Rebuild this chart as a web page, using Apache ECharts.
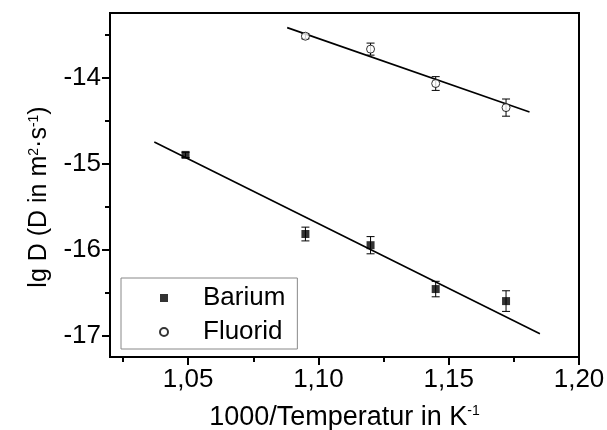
<!DOCTYPE html>
<html><head><meta charset="utf-8">
<script src="https://cdn.jsdelivr.net/npm/echarts@6/dist/echarts.min.js"></script>
<style>html,body{margin:0;padding:0;background:#fff}#c{width:607px;height:430px}</style>
</head><body><div id="c"></div>
<script>
const bariumX = [1.049, 1.095, 1.120, 1.145, 1.172];
const bariumY = [-14.90, -15.82, -15.95, -16.46, -16.60];
const bariumErr = [0.03, 0.08, 0.10, 0.09, 0.12];
const fluoridX = [1.095, 1.120, 1.145, 1.172];
const fluoridY = [-13.52, -13.67, -14.07, -14.35];
const fluoridErr = [0.03, 0.07, 0.08, 0.10];
const bariumFitX = [1.037, 1.185];
const bariumFitY = [-14.75, -16.98];
const fluoridFitX = [1.088, 1.181];
const fluoridFitY = [-13.42, -14.40];
const xTicks = [1.05, 1.10, 1.15, 1.20];
const xMinorTicks = [1.025, 1.075, 1.125, 1.175];
const yTicks = [-17, -16, -15, -14];
const yMinorTicks = [-16.5, -15.5, -14.5, -13.5];

const FONT = "'Liberation Sans', Arial, sans-serif";
const zip = (a, b) => a.map((v, i) => [v, b[i]]);
const errData = (xs, ys, es) => xs.map((x, i) => [x, ys[i] - es[i], ys[i] + es[i]]);

function renderErr(params, api) {
  const x = api.value(0);
  const lo = api.coord([x, api.value(1)]);
  const hi = api.coord([x, api.value(2)]);
  const w = 4;
  const st = { stroke: '#000', lineWidth: 1 };
  return {
    type: 'group',
    children: [
      { type: 'line', shape: { x1: lo[0], y1: lo[1], x2: hi[0], y2: hi[1] }, style: st },
      { type: 'line', shape: { x1: lo[0] - w, y1: lo[1], x2: lo[0] + w, y2: lo[1] }, style: st },
      { type: 'line', shape: { x1: hi[0] - w, y1: hi[1], x2: hi[0] + w, y2: hi[1] }, style: st }
    ]
  };
}

const axisLineStyle = { color: '#000', width: 2 };
const richX = {
  n: { fontSize: 27, fontFamily: FONT, color: '#000' },
  s: { fontSize: 14, fontFamily: FONT, color: '#000', verticalAlign: 'top' }
};
const richY = {
  n: { fontSize: 25, fontFamily: FONT, color: '#000' },
  s: { fontSize: 14, fontFamily: FONT, color: '#000', verticalAlign: 'top' }
};

const chart = echarts.init(document.getElementById('c'), null, { renderer: 'canvas' });
chart.setOption({
  animation: false,
  backgroundColor: '#fff',
  grid: { left: 110, right: 28, top: 13, bottom: 73, show: true, borderColor: '#000', borderWidth: 2, backgroundColor: 'transparent', outerBoundsMode: 'none' },
  legend: {
    data: ['Barium', 'Fluorid'],
    orient: 'vertical',
    left: 121, top: 278,
    padding: [5, 12, 2, 38],
    itemGap: 4,
    itemWidth: 8, itemHeight: 8,
    borderColor: '#888', borderWidth: 1,
    backgroundColor: '#fff',
    textStyle: { fontSize: 26, fontFamily: FONT, color: '#000', lineHeight: 30, padding: [0, 0, 0, 30] }
  },
  xAxis: [
    {
      type: 'value', min: 1.02, max: 1.20, position: 'bottom',
      axisLine: { show: true, lineStyle: axisLineStyle },
      axisTick: { show: true, inside: false, length: 8, lineStyle: axisLineStyle, customValues: xTicks },
      axisLabel: { customValues: xTicks, fontSize: 26, fontFamily: FONT, color: '#000', margin: 10,
        formatter: v => v.toFixed(2).replace('.', ',') },
      splitLine: { show: false },
      name: '{n|1000/Temperatur in K}{s|-1}',
      nameLocation: 'middle', nameGap: 47,
      nameTextStyle: { rich: richX }
    },
    {
      type: 'value', min: 1.02, max: 1.20, position: 'bottom',
      axisLine: { show: false },
      axisTick: { show: true, inside: false, length: 5, lineStyle: axisLineStyle, customValues: xMinorTicks },
      axisLabel: { show: false },
      splitLine: { show: false }
    }
  ],
  yAxis: [
    {
      type: 'value', min: -17.25, max: -13.25, position: 'left',
      axisLine: { show: true, lineStyle: axisLineStyle },
      axisTick: { show: true, inside: false, length: 8, lineStyle: axisLineStyle, customValues: yTicks },
      axisLabel: { customValues: yTicks, fontSize: 26, fontFamily: FONT, color: '#000', margin: 9,
        formatter: v => String(v) },
      splitLine: { show: false },
      name: '{n|lg D (D in m}{s|2}{n|·s}{s|-1}{n|)}',
      nameLocation: 'middle', nameGap: 58,
      nameTextStyle: { rich: richY, padding: [0, 24, 0, 0] }
    },
    {
      type: 'value', min: -17.25, max: -13.25, position: 'left',
      axisLine: { show: false },
      axisTick: { show: true, inside: false, length: 5, lineStyle: axisLineStyle, customValues: yMinorTicks },
      axisLabel: { show: false },
      splitLine: { show: false }
    }
  ],
  series: [
    { name: 'BariumErr', type: 'custom', renderItem: renderErr, data: errData(bariumX, bariumY, bariumErr), z: 2, silent: true },
    { name: 'FluoridErr', type: 'custom', renderItem: renderErr, data: errData(fluoridX, fluoridY, fluoridErr), z: 2, silent: true },
    { name: 'BariumFit', type: 'line', data: zip(bariumFitX, bariumFitY), showSymbol: false, symbol: 'none',
      lineStyle: { color: '#000', width: 1.6 }, z: 3 },
    { name: 'FluoridFit', type: 'line', data: zip(fluoridFitX, fluoridFitY), showSymbol: false, symbol: 'none',
      lineStyle: { color: '#000', width: 1.6 }, z: 3 },
    { name: 'Barium', type: 'scatter', data: zip(bariumX, bariumY), symbol: 'rect', symbolSize: 8,
      itemStyle: { color: '#000' }, z: 4 },
    { name: 'Fluorid', type: 'scatter', data: zip(fluoridX, fluoridY), symbol: 'circle', symbolSize: 8,
      itemStyle: { color: '#fff', borderColor: '#000', borderWidth: 1 }, z: 4 }
  ]
});
</script>
</body></html>
